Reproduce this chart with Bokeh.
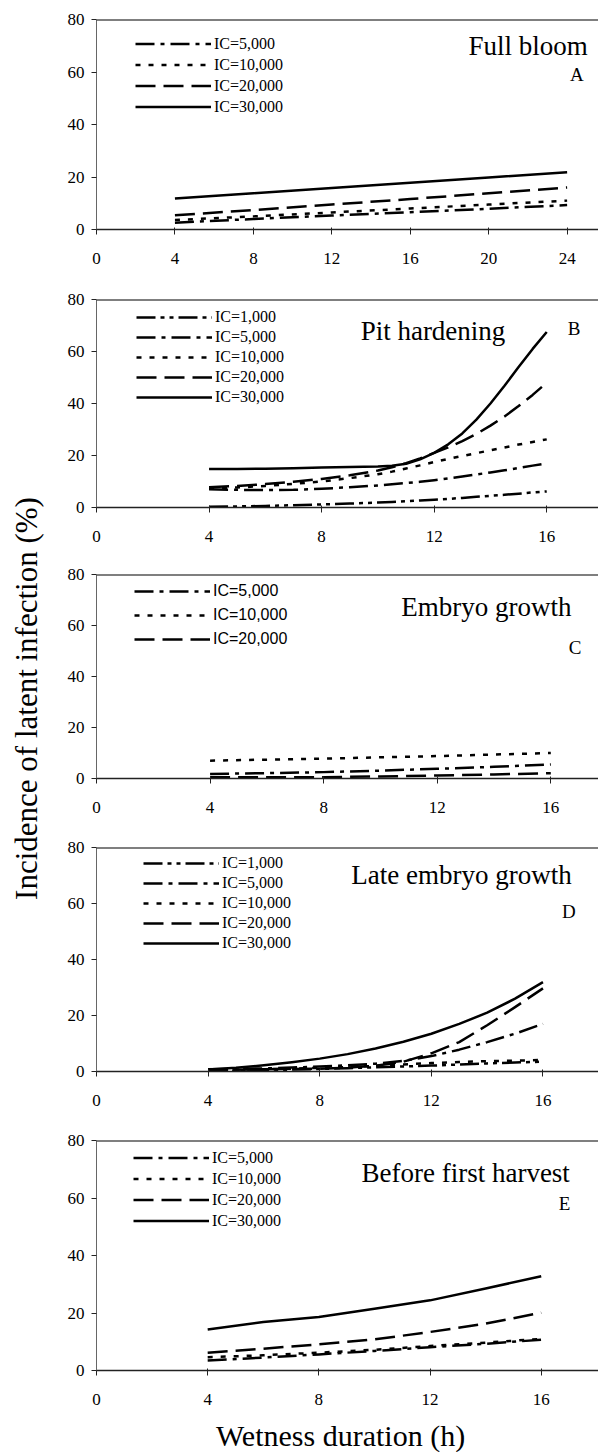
import math
from bokeh.plotting import figure
from bokeh.models import Range1d, Legend, LegendItem, Label, FixedTicker, Span
from bokeh.layouts import row, column
from bokeh.embed import file_html
from bokeh.resources import INLINE

SERIF = "Liberation Serif"
SANS = "Liberation Sans"

# ---------------- data ----------------
# Panel A - Full bloom
A_x = [4, 8, 12, 16, 20, 24]
A_5000 = [2.6, 4.0, 5.3, 6.6, 7.9, 9.3]
A_10000 = [3.6, 5.0, 6.5, 8.0, 9.5, 11.0]
A_20000 = [5.4, 7.4, 9.5, 11.6, 13.8, 16.0]
A_30000 = [11.8, 13.8, 15.8, 17.8, 19.8, 21.8]

# Panel B - Pit hardening
B_x = [4, 5, 6, 7, 8, 9, 10, 10.5, 11, 11.5, 12, 12.5, 13, 13.5, 14, 14.5, 15, 15.5, 16]
B_1000 = [0.3, 0.4, 0.6, 0.9, 1.2, 1.5, 1.9, 2.1, 2.4, 2.7, 3.0, 3.3, 3.7, 4.1, 4.5, 4.9, 5.3, 5.8, 6.2]
B_5000 = [7.0, 6.8, 6.7, 6.8, 7.2, 7.8, 8.5, 8.9, 9.4, 9.9, 10.5, 11.2, 11.9, 12.7, 13.5, 14.3, 15.2, 16.1, 17.0]
B_10000 = [7.2, 7.7, 8.3, 9.1, 10.0, 11.3, 12.8, 13.8, 15.0, 16.2, 17.5, 18.7, 19.8, 20.9, 22.0, 23.1, 24.2, 25.2, 26.2]
B_20000 = [7.8, 8.3, 9.0, 9.9, 11.0, 12.4, 14.2, 15.5, 17.0, 18.9, 21.0, 23.1, 25.5, 28.3, 31.5, 35.0, 39.0, 43.3, 48.0]
B_30000 = [14.8, 14.8, 14.9, 15.1, 15.4, 15.6, 15.8, 16.1, 16.8, 18.5, 21.0, 24.3, 28.5, 33.8, 40.0, 46.8, 54.0, 61.0, 67.5]

# Panel C - Embryo growth
C_x = [4, 6, 8, 10, 12, 14, 16]
C_5000 = [1.8, 2.1, 2.5, 3.1, 3.8, 4.6, 5.5]
C_10000 = [7.0, 7.4, 7.8, 8.3, 8.8, 9.4, 10.0]
C_20000 = [0.5, 0.5, 0.5, 0.8, 1.2, 1.6, 2.1]

# Panel D - Late embryo growth
D_x = [4, 5, 6, 7, 8, 9, 10, 11, 12, 13, 14, 15, 16]
D_1000 = [0.3, 0.4, 0.5, 0.7, 0.9, 1.2, 1.5, 1.8, 2.1, 2.5, 2.9, 3.2, 3.5]
D_5000 = [0.8, 0.9, 1.1, 1.4, 1.8, 2.2, 2.8, 3.8, 5.5, 7.8, 10.5, 13.5, 17.0]
D_10000 = [0.5, 0.6, 0.8, 1.0, 1.3, 1.6, 2.0, 2.5, 3.0, 3.4, 3.7, 3.9, 4.1]
D_20000 = [0.5, 0.6, 0.8, 0.9, 1.0, 1.4, 2.0, 3.5, 6.5, 10.5, 16.5, 23.0, 29.7]
D_30000 = [0.7, 1.3, 2.2, 3.3, 4.6, 6.2, 8.2, 10.6, 13.5, 17.0, 21.0, 26.0, 31.9]

# Panel E - Before first harvest
E_x = [4, 6, 8, 10, 12, 14, 16]
E_5000 = [3.5, 4.5, 5.6, 6.8, 8.1, 9.3, 10.7]
E_10000 = [4.6, 5.3, 6.2, 7.2, 8.5, 9.7, 11.0]
E_20000 = [6.2, 7.6, 9.1, 10.8, 13.4, 16.3, 20.1]
E_30000 = [14.3, 16.9, 18.6, 21.5, 24.4, 28.5, 32.8]

Y_TICKS = [0, 20, 40, 60, 80]
X_TICKS_A = [0, 4, 8, 12, 16, 20, 24]
X_TICKS = [0, 4, 8, 12, 16]

Y_LABEL = "Incidence of latent infection (%)"
X_LABEL = "Wetness duration (h)"

DASH = {
    "IC=1,000": "19 5 4 5 4 5",
    "IC=5,000": "19 6 4 6",
    "IC=10,000": "5 8",
    "IC=20,000": "20 8",
    "IC=30,000": "solid",
}

LAB_W = 50        # width of the y-label strip
FIG_W = 548       # width of every panel
FRAME_LEFT = 96   # page x of every panel's y axis


def clean(p):
    p.xgrid.visible = False
    p.ygrid.visible = False
    p.outline_line_color = None
    p.background_fill_color = "white"
    p.border_fill_color = "white"


def make_panel(xs, series, x_end, xticks, b_top, frame_h, b_bottom,
               title, title_xy, letter, letter_xy, legend_font, legend_loc, pitch):
    p = figure(width=FIG_W, height=b_top + frame_h + b_bottom,
               x_range=Range1d(0, x_end), y_range=Range1d(0, 80),
               output_backend="svg", toolbar_location=None,
               min_border_left=FRAME_LEFT - LAB_W, min_border_right=0,
               min_border_top=b_top, min_border_bottom=b_bottom)
    clean(p)

    items = []
    for name, ys in series:
        r = p.line(xs, ys, line_color="black", line_width=2.5,
                   line_dash=DASH[name], line_cap="butt", line_join="round")
        items.append(LegendItem(label=name, renderers=[r]))

    leg = Legend(items=items, location=legend_loc, orientation="vertical",
                 glyph_width=76, glyph_height=int(round(pitch)), spacing=0, padding=0,
                 margin=0, label_standoff=3, label_height=int(round(pitch)),
                 border_line_color=None, background_fill_alpha=0,
                 label_text_font=legend_font, label_text_font_size="16px",
                 label_text_color="black")
    p.add_layout(leg)

    p.add_layout(Span(location=80, dimension="width", line_color="black",
                      line_width=2))

    p.xaxis.ticker = FixedTicker(ticks=xticks, minor_ticks=[])
    p.yaxis.ticker = FixedTicker(ticks=Y_TICKS, minor_ticks=[])
    for ax in (p.xaxis, p.yaxis):
        ax.major_label_text_font = SERIF
        ax.major_label_text_color = "black"
        ax.minor_tick_line_color = None
        ax.major_tick_line_color = "#222222"
    p.xaxis.major_label_text_font_size = "17px"
    p.yaxis.major_label_text_font_size = "17px"
    p.xaxis.axis_line_color = "#222222"
    p.xaxis.axis_line_width = 1.5
    p.yaxis.axis_line_color = "#666666"
    p.yaxis.axis_line_width = 1
    p.xaxis.major_tick_in = 2
    p.xaxis.major_tick_out = 5
    p.yaxis.major_tick_in = 0
    p.yaxis.major_tick_out = 5
    p.xaxis.major_label_standoff = 18
    p.yaxis.major_label_standoff = 7

    p.add_layout(Label(x=title_xy[0], y=title_xy[1], text=title,
                       text_font=SERIF, text_font_size="27px",
                       text_align="right", text_baseline="alphabetic",
                       text_color="black"))
    p.add_layout(Label(x=letter_xy[0], y=letter_xy[1], text=letter,
                       text_font=SERIF, text_font_size="19px",
                       text_align="right", text_baseline="alphabetic",
                       text_color="black"))
    return p


pA = make_panel(A_x, [("IC=5,000", A_5000), ("IC=10,000", A_10000),
                      ("IC=20,000", A_20000), ("IC=30,000", A_30000)],
                25.6, X_TICKS_A, 19, 210, 56,
                "Full bloom", (25.05, 69.8), "A", (24.85, 59.2),
                SERIF, (39, 112), 21.3)

pB = make_panel(B_x, [("IC=1,000", B_1000), ("IC=5,000", B_5000),
                      ("IC=10,000", B_10000), ("IC=20,000", B_20000),
                      ("IC=30,000", B_30000)],
                17.84, X_TICKS, 14, 208, 53,
                "Pit hardening", (14.53, 67.8), "B", (17.2, 68.8),
                SERIF, (40, 100), 19.5)

pC = make_panel(C_x, [("IC=5,000", C_5000), ("IC=10,000", C_10000),
                      ("IC=20,000", C_20000)],
                17.68, X_TICKS, 14, 204, 57,
                "Embryo growth", (16.73, 67.4), "C", (17.08, 51.5),
                SANS, (38, 127), 23.5)

pD = make_panel(D_x, [("IC=1,000", D_1000), ("IC=5,000", D_5000),
                      ("IC=10,000", D_10000), ("IC=20,000", D_20000),
                      ("IC=30,000", D_30000)],
                17.99, X_TICKS, 12, 224, 54,
                "Late embryo growth", (17.03, 70.3), "D", (17.17, 57.0),
                SERIF, (47, 118), 20)

E_X_END = 18.06
pE = make_panel(E_x, [("IC=5,000", E_5000), ("IC=10,000", E_10000),
                      ("IC=20,000", E_20000), ("IC=30,000", E_30000)],
                E_X_END, X_TICKS, 15, 230, 46,
                "Before first harvest", (17.03, 68.6), "E", (17.05, 58.1),
                SERIF, (37, 139), 21.3)

# strip under the bottom panel carrying the x-axis title (same x scale as panel E)
STRIP_H = 36
strip = figure(width=FIG_W, height=STRIP_H,
               x_range=Range1d(0, E_X_END), y_range=Range1d(0, STRIP_H),
               output_backend="svg", toolbar_location=None,
               x_axis_location=None, y_axis_location=None,
               min_border_left=FRAME_LEFT - LAB_W, min_border_right=0,
               min_border_top=0, min_border_bottom=0)
clean(strip)
strip.add_layout(Label(x=8.78, y=17, text=X_LABEL, text_font=SERIF,
                       text_font_size="30px", text_align="center",
                       text_baseline="alphabetic", text_color="black"))

panels = [pA, pB, pC, pD, pE, strip]
TOTAL_H = sum(f.height for f in panels)

lab = figure(width=LAB_W, height=TOTAL_H,
             x_range=Range1d(0, LAB_W), y_range=Range1d(0, TOTAL_H),
             output_backend="svg", toolbar_location=None,
             x_axis_location=None, y_axis_location=None,
             min_border_left=0, min_border_right=0, min_border_top=0,
             min_border_bottom=0)
clean(lab)
lab.add_layout(Label(x=26, y=TOTAL_H - 698, text=Y_LABEL,
                     angle=math.pi / 2, text_align="center", text_baseline="middle",
                     text_font=SERIF, text_font_size="31px", text_color="black"))

layout = row(lab, column(*panels, spacing=0), spacing=0)

with open("out.html", "w") as f:
    f.write(file_html(layout, INLINE))
